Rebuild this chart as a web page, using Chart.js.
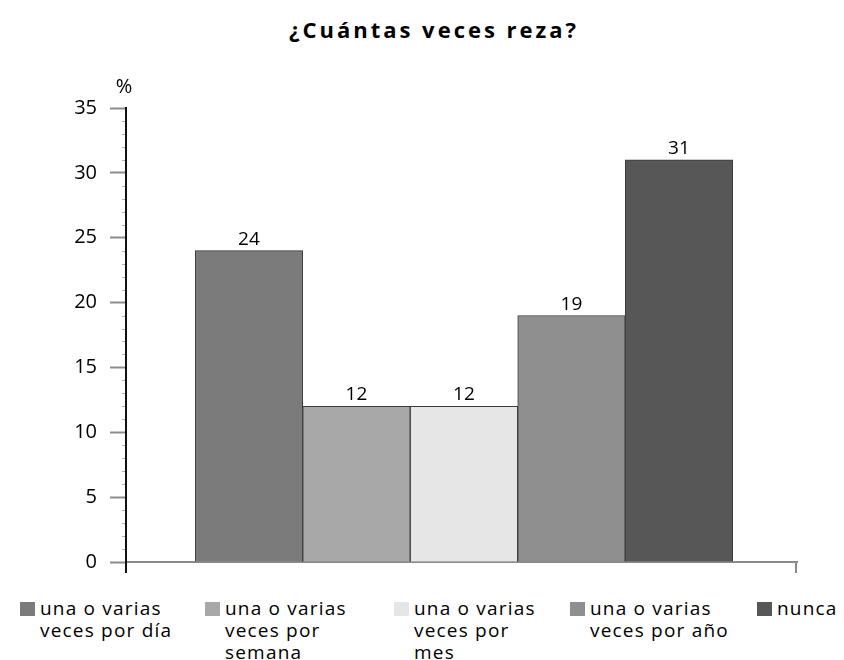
<!DOCTYPE html>
<html>
<head>
<meta charset="utf-8">
<script src="https://cdn.jsdelivr.net/npm/chart.js@4/dist/chart.umd.min.js"></script>
<style>
  body { margin: 0; background: #fff; }
  #wrap { position: relative; width: 844px; height: 660px; overflow: hidden; font-family: 'Open Sans', sans-serif; color: #000; }
  #titulo { position: absolute; left: 0; top: 18px; width: 868px; text-align: center; font-size: 22px; font-weight: 700; line-height: 22px; letter-spacing: 3px; }
  #chart { position: absolute; left: 0; top: 0; }
  .leg { position: absolute; top: 597px; font-size: 19px; font-weight: 500; line-height: 22px; letter-spacing: 1.2px; }
  .leg .sw { position: absolute; left: -20px; top: 5px; width: 15px; height: 14px; }
</style>
</head>
<body>
<div id="wrap">
  <div id="titulo">¿Cuántas veces reza?</div>
  <canvas id="chart" width="844" height="590"></canvas>
  <div id="leyenda"></div>
</div>
<script>
// datos
var categorias = ['una o varias veces por día', 'una o varias veces por semana', 'una o varias veces por mes', 'una o varias veces por año', 'nunca'];
var lineasLeyenda = [
  ['una o varias', 'veces por día'],
  ['una o varias', 'veces por', 'semana'],
  ['una o varias', 'veces por', 'mes'],
  ['una o varias', 'veces por año'],
  ['nunca']
];
var posiciones = [1, 2, 3, 4, 5];
var porcentajes = [24, 12, 12, 19, 31];
var colores = ['#7b7b7b', '#a8a8a8', '#e6e6e6', '#8f8f8f', '#575757'];

// leyenda en html (texto en varias lineas)
var legX = [40, 225, 414, 590, 777];
var leyenda = document.getElementById('leyenda');
lineasLeyenda.forEach(function (lineas, i) {
  var d = document.createElement('div');
  d.className = 'leg';
  d.style.left = legX[i] + 'px';
  d.innerHTML = '<span class="sw" style="background:' + colores[i] + '"></span>' + lineas.join('<br>');
  leyenda.appendChild(d);
});

// etiquetas, ticks menores y extremos de los ejes
const extras = {
  id: 'extras',
  afterDraw: function (chart) {
    var ctx = chart.ctx;
    var y = chart.scales.y;
    var area = chart.chartArea;
    ctx.save();
    // ticks menores
    ctx.strokeStyle = '#b0b0b0';
    ctx.lineWidth = 1;
    for (var v = 1; v < 35; v++) {
      if (v % 5 === 0) continue;
      var py = Math.round(y.getPixelForValue(v)) + 0.5;
      ctx.beginPath();
      ctx.moveTo(area.left - 4, py);
      ctx.lineTo(area.left - 1, py);
      ctx.stroke();
    }
    // prolongacion del eje y y marca final del eje x
    ctx.lineWidth = 2;
    ctx.strokeStyle = '#111';
    ctx.beginPath();
    ctx.moveTo(area.left, area.bottom);
    ctx.lineTo(area.left, area.bottom + 11);
    ctx.stroke();
    ctx.strokeStyle = '#8a8a8a';
    ctx.beginPath();
    ctx.moveTo(area.right - 1, area.bottom);
    ctx.lineTo(area.right - 1, area.bottom + 11);
    ctx.stroke();
    // %
    ctx.fillStyle = '#000';
    ctx.font = '500 20px "Open Sans"';
    ctx.textAlign = 'center';
    ctx.textBaseline = 'alphabetic';
    ctx.fillText('%', area.left - 2, 93);
    // valores sobre las barras
    ctx.font = '500 19px "Open Sans"';
    var meta = chart.getDatasetMeta(0);
    meta.data.forEach(function (bar, i) {
      ctx.fillText(porcentajes[i], bar.x, bar.y - 6);
    });
    ctx.restore();
  }
};

var config = {
  type: 'bar',
  data: {
    datasets: [{
      label: '%',
      data: posiciones.map(function (p, i) { return { x: p, y: porcentajes[i] }; }),
      backgroundColor: colores,
      borderColor: '#3a3a3a',
      borderWidth: 1,
      barPercentage: 1,
      categoryPercentage: 1
    }]
  },
  options: {
    responsive: false,
    animation: false,
    devicePixelRatio: 1,
    layout: { padding: { top: 108, left: 0, right: 47, bottom: 28 } },
    plugins: {
      legend: { display: false },
      title: { display: false },
      tooltip: { enabled: false }
    },
    scales: {
      x: {
        type: 'linear',
        min: -0.144,
        max: 6.098,
        offset: false,
        ticks: { display: false, stepSize: 1, includeBounds: false },
        grid: { display: false, drawTicks: false },
        border: { display: true, color: '#8a8a8a', width: 2 }
      },
      y: {
        min: 0,
        max: 35,
        ticks: { stepSize: 5, padding: 13, color: '#000', font: { family: 'Open Sans', size: 20, weight: '500' } },
        grid: { drawOnChartArea: false, drawTicks: true, tickLength: 16, tickColor: '#8a8a8a', tickWidth: 2 },
        border: { display: true, color: '#111', width: 2 },
        afterFit: function (scale) { scale.width = 126; }
      }
    }
  },
  plugins: [extras]
};

var grafico = new Chart(document.getElementById('chart'), config);
</script>
</body>
</html>
